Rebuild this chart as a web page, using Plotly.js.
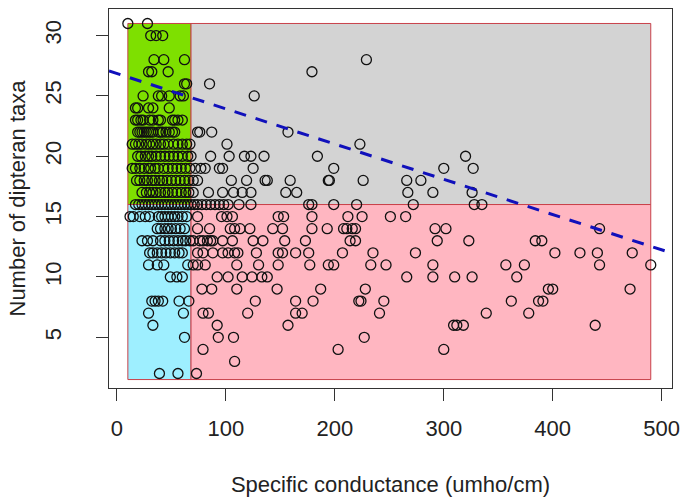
<!DOCTYPE html>
<html>
<head>
<meta charset="utf-8">
<script src="https://cdn.plot.ly/plotly-3.0.1.min.js"></script>
<style>html,body{margin:0;padding:0;background:#fff;}#chart{width:681px;height:497px;}</style>
</head>
<body>
<div id="chart"></div>
<script>
// Specific conductance (umho/cm) of each site, grouped by its number of dipteran taxa
const cond_31 = [10, 28];
const cond_30 = [31, 36, 42];
const cond_28 = [34, 43, 62, 229];
const cond_27 = [29, 32, 47, 179];
const cond_26 = [62, 64, 85];
const cond_25 = [24, 38, 41, 48, 58, 61, 126];
const cond_24 = [17, 19, 29, 33, 48];
const cond_23 = [17, 19, 22, 24, 30, 33, 38, 40, 51, 53, 56, 60];
const cond_22 = [19, 21, 23, 25, 27, 29, 31, 33, 38, 40, 42, 45, 48, 51, 53, 74, 76, 87, 157];
const cond_21 = [14, 17, 20, 23, 27, 30, 33, 36, 40, 43, 47, 52, 56, 60, 64, 67, 101, 223];
const cond_20 = [19, 22, 26, 29, 32, 36, 40, 44, 48, 52, 56, 60, 65, 68, 86, 103, 117, 123, 135, 184, 320];
const cond_19 = [14, 17, 21, 25, 29, 31, 35, 38, 43, 47, 51, 55, 59, 63, 67, 72, 77, 81, 94, 97, 125, 199, 300, 327];
const cond_18 = [18, 21, 25, 28, 32, 35, 39, 42, 46, 50, 54, 58, 62, 66, 70, 74, 105, 119, 136, 138, 159, 194, 195, 226, 266, 279];
const cond_17 = [23, 27, 30, 33, 36, 40, 44, 47, 51, 55, 59, 63, 66, 70, 84, 97, 107, 115, 123, 155, 165, 267, 290, 326];
const cond_16 = [17, 20, 23, 26, 29, 32, 35, 38, 41, 44, 47, 50, 53, 56, 59, 62, 65, 68, 71, 74, 78, 82, 86, 90, 94, 98, 102, 112, 123, 176, 179, 199, 220, 272, 328, 335];
const cond_15 = [12, 15, 21, 26, 30, 38, 41, 44, 47, 50, 53, 56, 60, 64, 74, 96, 101, 106, 148, 153, 179, 212, 225, 251, 265];
const cond_14 = [37, 40, 44, 47, 50, 54, 58, 62, 74, 85, 104, 108, 113, 122, 143, 152, 179, 193, 208, 211, 216, 219, 292, 302, 443];
const cond_13 = [23, 28, 33, 40, 44, 48, 52, 56, 60, 63, 67, 70, 76, 79, 83, 86, 88, 97, 106, 125, 134, 154, 173, 214, 219, 294, 323, 384, 390];
const cond_12 = [30, 33, 37, 41, 45, 49, 53, 57, 60, 74, 79, 88, 97, 102, 108, 111, 128, 148, 152, 164, 176, 207, 235, 274, 402, 425, 441, 473];
const cond_11 = [29, 37, 43, 65, 70, 74, 81, 110, 130, 148, 177, 194, 199, 233, 247, 290, 357, 374, 443, 490];
const cond_10 = [49, 55, 60, 92, 102, 115, 124, 133, 138, 266, 290, 310, 326, 367];
const cond_9  = [78, 87, 110, 147, 187, 228, 396, 400, 471];
const cond_8  = [32, 35, 38, 42, 57, 66, 127, 164, 180, 222, 224, 245, 362, 387, 391];
const cond_7  = [29, 61, 79, 84, 120, 164, 170, 241, 339, 378];
const cond_6  = [33, 92, 157, 309, 312, 318, 439];
const cond_5  = [62, 93, 107, 227];
const cond_4  = [79, 203, 300];
const cond_3  = [108];
const cond_2  = [39, 56, 73];

const taxaCounts = [31, 30, 28, 27, 26, 25, 24, 23, 22, 21, 20, 19, 18, 17, 16, 15, 14, 13, 12, 11, 10, 9, 8, 7, 6, 5, 4, 3, 2];
const condGroups = [cond_31, cond_30, cond_28, cond_27, cond_26, cond_25, cond_24, cond_23, cond_22, cond_21,
  cond_20, cond_19, cond_18, cond_17, cond_16, cond_15, cond_14, cond_13, cond_12, cond_11,
  cond_10, cond_9, cond_8, cond_7, cond_6, cond_5, cond_4, cond_3, cond_2];

// Quadrant thresholds (data units)
const condBounds = [10, 68, 490];
const taxaBounds = [1.5, 16, 31];

// Regression line: taxa = intercept + slope * conductance
const regIntercept = 26.85;
const regSlope = -0.0292;

const xTicks = [0, 100, 200, 300, 400, 500];
const yTicks = [5, 10, 15, 20, 25, 30];

const xRange = [-7.3, 509.5];
const yRange = [0.8, 32.2];

const px = [], py = [];
taxaCounts.forEach((t, i) => { condGroups[i].forEach(c => { px.push(c); py.push(t); }); });

const regX = [xRange[0], xRange[1]];
const regY = regX.map(x => regIntercept + regSlope * x);

function rect(x0, x1, y0, y1, fill) {
  return {type: 'rect', xref: 'x', yref: 'y', x0: x0, x1: x1, y0: y0, y1: y1,
    fillcolor: fill, line: {color: '#c8404a', width: 1}, layer: 'below'};
}

const shapes = [
  rect(condBounds[0], condBounds[1], taxaBounds[1], taxaBounds[2], '#7ee000'),
  rect(condBounds[1], condBounds[2], taxaBounds[1], taxaBounds[2], '#d3d3d3'),
  rect(condBounds[0], condBounds[1], taxaBounds[0], taxaBounds[1], '#9eefff'),
  rect(condBounds[1], condBounds[2], taxaBounds[0], taxaBounds[1], '#ffb6c1')
];

const traces = [
  {x: px, y: py, type: 'scatter', mode: 'markers', hoverinfo: 'x+y',
   marker: {symbol: 'circle-open', size: 10, color: '#111', line: {width: 1.3, color: '#111'}}},
  {x: regX, y: regY, type: 'scatter', mode: 'lines', hoverinfo: 'skip',
   line: {color: '#1010bb', width: 3, dash: '12px,10px'}}
];

const fontFam = '"Liberation Sans", Arial, sans-serif';
const layout = {
  width: 681, height: 497,
  margin: {l: 109, r: 9, t: 9, b: 109},
  paper_bgcolor: '#fff', plot_bgcolor: '#fff',
  showlegend: false,
  font: {family: fontFam, color: '#222'},
  shapes: shapes,
  xaxis: {range: xRange, tickvals: xTicks, ticktext: xTicks.map(String),
    showgrid: false, zeroline: false, showline: true, mirror: true,
    linecolor: '#333', linewidth: 1, ticks: 'outside', ticklen: 12, tickcolor: '#333',
    tickfont: {size: 22, color: '#222'}, ticklabelstandoff: 9,
    title: {text: 'Specific conductance (umho/cm)', font: {size: 22, color: '#222'}, standoff: 37}},
  yaxis: {range: yRange, tickvals: yTicks, ticktext: yTicks.map(String),
    showgrid: false, zeroline: false, showline: true, mirror: true,
    linecolor: '#333', linewidth: 1, ticks: 'outside', ticklen: 12, tickcolor: '#333',
    tickangle: -90, tickfont: {size: 22, color: '#222'}, ticklabelstandoff: 26,
    title: {text: 'Number of dipteran taxa', font: {size: 22, color: '#222'}, standoff: 9}}
};

Plotly.newPlot('chart', traces, layout, {displayModeBar: false, staticPlot: true});
</script>
</body>
</html>
